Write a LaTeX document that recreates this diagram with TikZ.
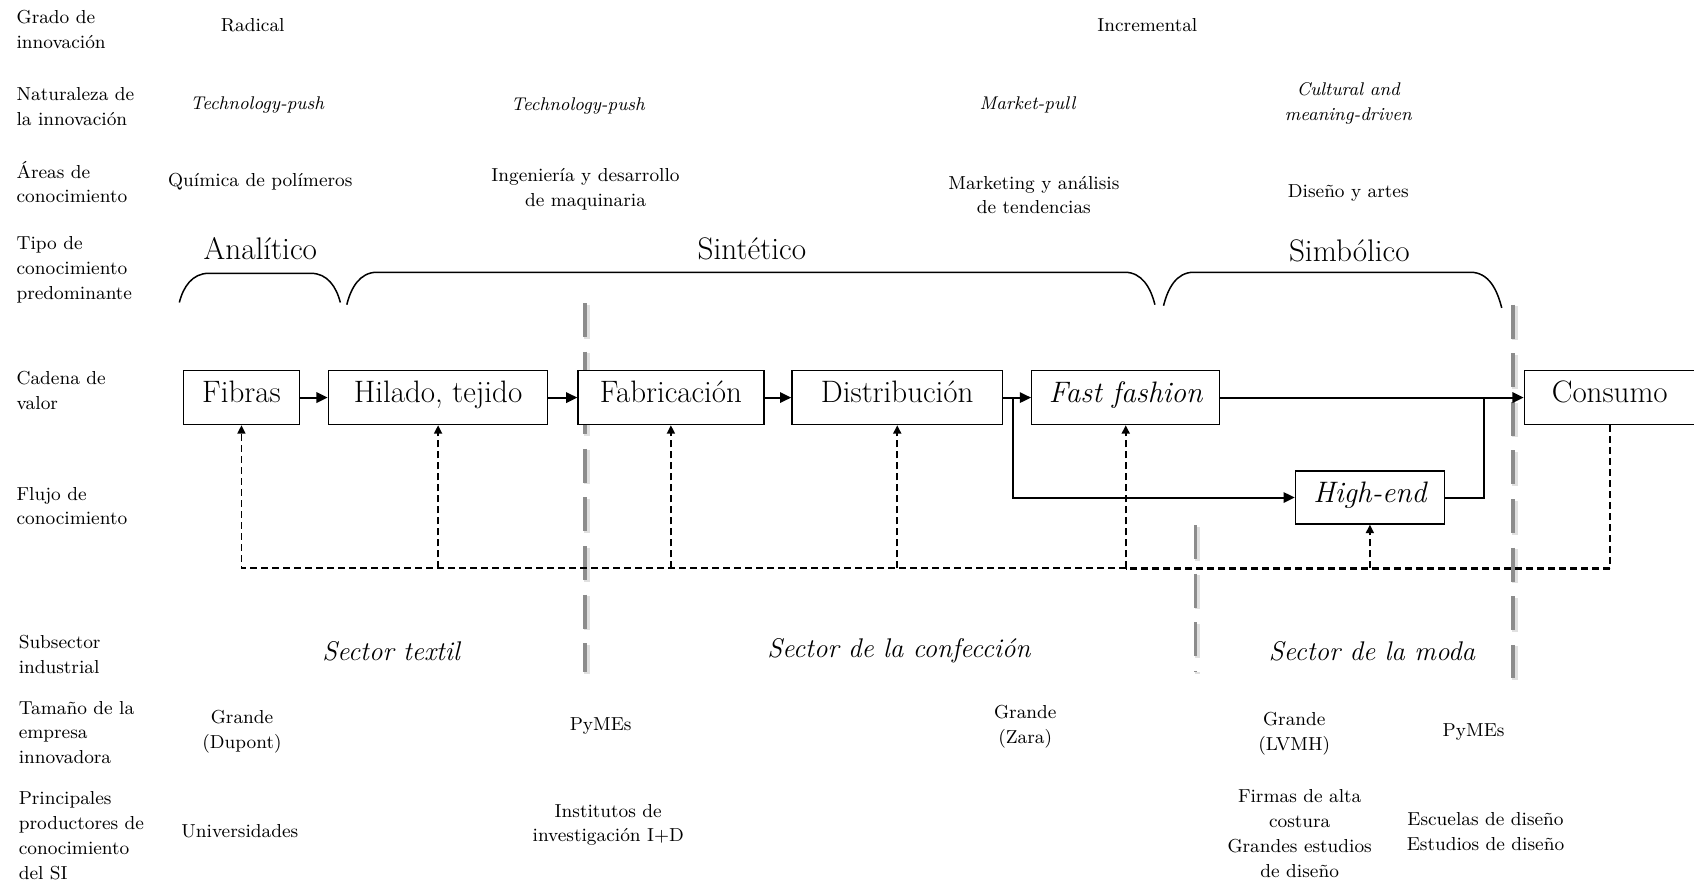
\documentclass[tikz,border=0pt]{standalone}
\usepackage{fontspec}
\usetikzlibrary{arrows.meta}

% font sizes used in the chart
\newcommand\lblfont{\fontsize{9.4}{12.4}\selectfont}
\newcommand\itsmall{\fontsize{9.2}{12.4}\selectfont\itshape}
\newcommand\boxfont{\fontsize{15.5}{18}\selectfont}
\newcommand\boxit{\fontsize{14.8}{18}\selectfont\itshape}
\newcommand\kindfont{\fontsize{15.6}{18}\selectfont}
\newcommand\sectfont{\fontsize{13.5}{16}\selectfont\itshape}

\tikzset{
  lbl/.style={anchor=west, align=left, inner sep=0pt, font=\lblfont},
  txt/.style={align=center, inner sep=0pt, font=\lblfont},
  itx/.style={align=center, inner sep=0pt, font=\itsmall},
  kind/.style={inner sep=0pt, font=\kindfont},
  sect/.style={inner sep=0pt, font=\sectfont},
  stage/.style={draw, line width=0.7pt, fill=white, minimum height=27pt,
                inner sep=0pt, text height=11pt, text depth=6.2pt, font=\boxfont},
  brace/.style={line width=0.75pt},
  flow/.style={line width=1pt, -{Triangle[length=5.6pt,width=5.2pt]}},
  plainflow/.style={line width=1pt},
  kflow/.style={line width=0.85pt, dash pattern=on 3.5pt off 2pt},
  kflowtip/.style={kflow, -{Triangle[length=4.2pt,width=4pt]}},
  sepline/.style={draw=black!45, line width=1.7pt, dash pattern=on 17pt off 7.3pt},
  sepshadow/.style={draw=black!12, line width=2.8pt, dash pattern=on 17pt off 7.3pt},
}

\begin{document}
\begin{tikzpicture}[x=0.5402pt, y=-0.5402pt]
\useasboundingbox (0,0) rectangle (1568,817);
\clip (0,0) rectangle (1568,817);

% row headings
\node[lbl] (h1) at (15,27.5) {Grado de\\innovación};
\node[lbl] (h2) at (15,98.5) {Naturaleza de\\la innovación};
\node[lbl] (h3) at (15,168.5) {Áreas de\\conocimiento};
\node[lbl] (h4) at (15,250) {Tipo de\\conocimiento\\predominante};
\node[lbl] (h5) at (15,361.5) {Cadena de\\valor};
\node[lbl] (h6) at (15,468.5) {Flujo de\\conocimiento};
\node[lbl] (h7) at (17,605.5) {Subsector\\industrial};
\node[lbl] (h8) at (17,678) {Tamaño de la\\empresa\\innovadora};
\node[lbl] (h9) at (17,773.5) {Principales\\productores de\\conocimiento\\del SI};

% degree of innovation
\node[txt] (rad) at (234,23) {Radical};
\node[txt] (inc) at (1062,23) {Incremental};

% nature of innovation
\node[itx] (tp1) at (238,97) {Technology-push};
\node[itx] (tp2) at (535,98) {Technology-push};
\node[itx] (mp) at (951,97) {Market-pull};
\node[itx] (cm) at (1248,95.5) {Cultural and\\meaning-driven};

% knowledge areas
\node[txt] (a1) at (241,168) {Química de polímeros};
\node[txt] (a2) at (542,175.5) {Ingeniería y desarrollo\\de maquinaria};
\node[txt] (a3) at (957,180.5) {Marketing y análisis\\de tendencias};
\node[txt] (a4) at (1248,179) {Diseño y artes};

% knowledge base types and their spans
\node[kind] (k1) at (241,230) {Analítico};
\node[kind] (k2) at (696,230) {Sintético};
\node[kind] (k3) at (1249,232) {Simbólico};
\draw[brace] (166,280) to[out=76,in=180] (193,253) -- (288,253) to[out=0,in=104] (315,280);
\draw[brace] (321,282) to[out=76,in=180] (349,252) -- (1041,252) to[out=0,in=104] (1069,282);
\draw[brace] (1077,283) to[out=76,in=180] (1105,252) -- (1361,252) to[out=0,in=104] (1390,285);

% sector boundaries
\foreach \sx/\sa/\sb in {541.5/280.5/622, 1400.5/282/628, 1106.5/486/622}{
  \draw[sepshadow] (\sx+2,\sa+1.5) -- (\sx+2,\sb+1.5);
  \draw[sepline] (\sx,\sa) -- (\sx,\sb);
}

% value chain
\node[stage, minimum width=57.8pt] (fib) at (223.5,368) {Fibras};
\node[stage, minimum width=109.7pt] (hil) at (405.5,368) {Hilado, tejido};
\node[stage, minimum width=92.9pt] (fab) at (621,368) {Fabricación};
\node[stage, minimum width=105.3pt] (dis) at (830.5,368) {Distribución};
\node[stage, minimum width=94pt, font=\boxit] (ff) at (1042,368) {Fast fashion};
\node[stage, minimum width=85.4pt] (con) at (1490,368) {Consumo};
\node[stage, minimum width=74.5pt, minimum height=26.5pt, font=\boxit] (he) at (1268,460.5) {High-end};

\coordinate (br) at (938,368);
\coordinate (jn) at (1374,368);
\coordinate (kb) at (0,526);

\draw[flow] (fib) -- (hil);
\draw[flow] (hil) -- (fab);
\draw[flow] (fab) -- (dis);
\draw[flow] (dis) -- (ff);
\draw[flow] (br) |- (he.west);
\draw[flow] (ff) -- (con);
\draw[plainflow] (he.east) -| (jn);

% knowledge flows back from consumption
\draw[kflow] (con.south) -- (con.south |- kb);
\draw[kflow, line width=1.6pt] (con.south |- kb) -- (ff.south |- kb);
\draw[kflowtip] (ff.south |- kb) -- (fib.south |- kb) -- (fib.south);
\draw[kflowtip] (hil.south |- kb) -- (hil.south);
\draw[kflowtip] (fab.south |- kb) -- (fab.south);
\draw[kflowtip] (dis.south |- kb) -- (dis.south);
\draw[kflowtip] (ff.south |- kb) -- (ff.south);
\draw[kflowtip] (he.south |- kb) -- (he.south);

% industrial subsectors
\node[sect] (s1) at (362,603) {Sector textil};
\node[sect] (s2) at (832,602) {Sector de la confección};
\node[sect] (s3) at (1270,603) {Sector de la moda};

% size of innovating firm
\node[txt] (z1) at (224,677.5) {Grande\\(Dupont)};
\node[txt] (z2) at (556,672) {PyMEs};
\node[txt] (z3) at (949,672.5) {Grande\\(Zara)};
\node[txt] (z4) at (1198,679) {Grande\\(LVMH)};
\node[txt] (z5) at (1364,678) {PyMEs};

% main knowledge producers
\node[txt] (p1) at (222,769) {Universidades};
\node[txt] (p2) at (563,763.5) {Institutos de\\investigación I+D};
\node[txt] (p3) at (1203,771.5) {Firmas de alta\\costura\\Grandes estudios\\de diseño};
\node[txt] (p4) at (1375,769.5) {Escuelas de diseño\\Estudios de diseño};
\end{tikzpicture}
\end{document}
